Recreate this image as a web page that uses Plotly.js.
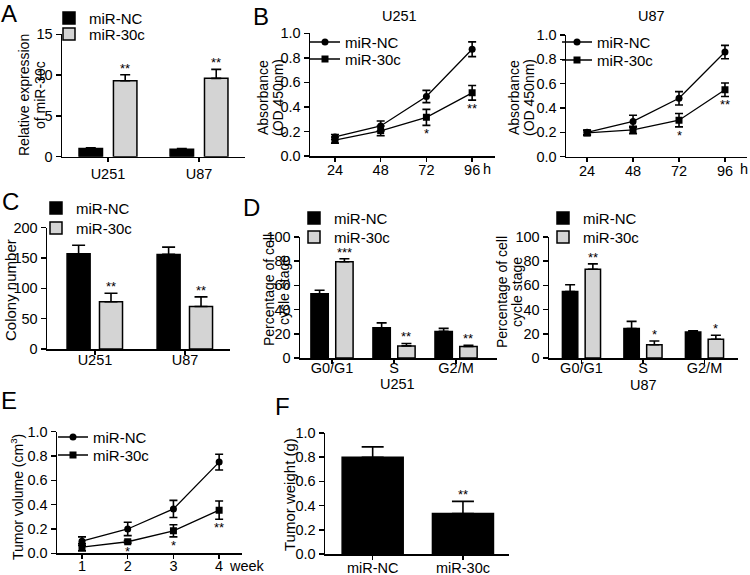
<!DOCTYPE html>
<html><head><meta charset="utf-8">
<script src="https://cdn.plot.ly/plotly-3.0.1.min.js"></script>
<style>html,body{margin:0;padding:0;background:#fff}#chart{width:750px;height:575px}</style>
</head><body><div id="chart"></div>
<script>
// ---------- DATA ----------
// Panel A
const cellLines = ['U251', 'U87'];
const relExprNC = [1.0, 0.9];
const relExprNCErr = [0.1, 0.1];
const relExpr30c = [9.3, 9.6];
const relExpr30cErr = [0.75, 1.1];
const relExprSig = ['**', '**'];
// Panel B
const hours = [24, 48, 72, 96];
const hourTicks = ['24', '48', '72', '96'];
const absU251NC = [0.155, 0.245, 0.485, 0.87];
const absU251NCErr = [0.02, 0.04, 0.05, 0.06];
const absU251m30c = [0.13, 0.205, 0.315, 0.515];
const absU251m30cErr = [0.025, 0.04, 0.065, 0.06];
const absU251Sig = ['', '', '*', '**'];
const absU87NC = [0.2, 0.29, 0.48, 0.86];
const absU87NCErr = [0.02, 0.05, 0.055, 0.055];
const absU87m30c = [0.195, 0.22, 0.3, 0.55];
const absU87m30cErr = [0.02, 0.03, 0.055, 0.055];
const absU87Sig = ['', '', '*', '**'];
// Panel C
const colonyNC = [157, 156];
const colonyNCErr = [14, 12];
const colonym30c = [78, 70];
const colonym30cErr = [14, 16];
const colonySig = ['**', '**'];
// Panel D
const phases = ['G0/G1', 'S', 'G2/M'];
const cycleU251NC = [53, 25, 22];
const cycleU251NCErr = [3, 4, 2.5];
const cycleU251m30c = [79.5, 10, 9.5];
const cycleU251m30cErr = [2.5, 2, 1];
const cycleU251Sig = ['***', '**', '**'];
const cycleU87NC = [55, 24.3, 21.5];
const cycleU87NCErr = [5.5, 6, 1];
const cycleU87m30c = [73.3, 11, 15.5];
const cycleU87m30cErr = [4.5, 3, 3.3];
const cycleU87Sig = ['**', '*', '*'];
// Panel E
const weeks = [1, 2, 3, 4];
const volNC = [0.10, 0.20, 0.365, 0.75];
const volNCErr = [0.035, 0.055, 0.07, 0.065];
const volm30c = [0.05, 0.095, 0.185, 0.355];
const volm30cErr = [0.03, 0.01, 0.05, 0.075];
const volSig = ['', '*', '*', '**'];
// Panel F
const groups = ['miR-NC', 'miR-30c'];
const weight = [0.80, 0.335];
const weightErr = [0.085, 0.1];
const weightSig = ['', '**'];

const NAME_NC = 'miR-NC', NAME_30 = 'miR-30c';

// ---------- HELPERS ----------
const W = 750, H = 575;
const dx = (a, b) => [a / W, b / W];
const dy = (t, b) => [1 - b / H, 1 - t / H];
const FONT = '"Liberation Sans", Arial, sans-serif';
const BLACK = '#000000';
const GRAY = '#d4d4d4';
const TICK_SIZE = 14.5, TITLE_SIZE = 14, LEG_SIZE = 15;

function xAxis(domain, range, anchor, standoff, extra) {
  return Object.assign({
    domain, range, anchor, showline: true, linecolor: BLACK, linewidth: 1.5,
    ticks: 'outside', ticklen: 4, tickwidth: 1.5, tickcolor: BLACK,
    ticklabelstandoff: standoff,
    showgrid: false, zeroline: false, fixedrange: true,
    tickfont: {family: FONT, size: TICK_SIZE, color: BLACK}
  }, extra || {});
}
function yAxis(domain, range, anchor, extra) {
  return Object.assign({
    domain, range, anchor, showline: true, linecolor: BLACK, linewidth: 1.5,
    ticks: 'outside', ticklen: 5, tickwidth: 1.5, tickcolor: BLACK,
    showgrid: false, zeroline: false, fixedrange: true,
    tickfont: {family: FONT, size: TICK_SIZE, color: BLACK}
  }, extra || {});
}
function barTrace(x, y, err, color, name, xa, ya, offset, width, capw, legend, showlegend) {
  return {
    type: 'bar', x, y, name, xaxis: xa, yaxis: ya, offset, width,
    legend: legend || 'legend', showlegend: !!showlegend,
    marker: {color, line: {color: BLACK, width: 1.5}},
    error_y: {type: 'data', symmetric: false, array: err, arrayminus: err.map(() => 0),
      color: BLACK, thickness: 1.6, width: capw},
    hoverinfo: 'skip'
  };
}
function lineTrace(x, y, err, symbol, name, xa, ya, legend) {
  return {
    type: 'scatter', mode: 'lines+markers', x, y, name, xaxis: xa, yaxis: ya,
    legend, showlegend: true,
    line: {color: BLACK, width: 1.3},
    marker: {symbol, size: 7, color: BLACK},
    error_y: {type: 'data', array: err, color: BLACK, thickness: 1.6, width: 4},
    hoverinfo: 'skip'
  };
}
function sigAbove(sigs, vals, errs, xa, ya, shift) {
  const out = [];
  sigs.forEach((s, i) => {
    if (!s) return;
    out.push({xref: xa, yref: ya, x: i + shift, y: vals[i] + errs[i], text: s,
      showarrow: false, xanchor: 'center', yanchor: 'bottom', yshift: -3,
      font: {family: FONT, size: 13, color: BLACK}});
  });
  return out;
}
function sigBelow(sigs, xs, vals, errs, xa, ya) {
  const out = [];
  sigs.forEach((s, i) => {
    if (!s) return;
    out.push({xref: xa, yref: ya, x: xs[i], y: vals[i] - errs[i], text: s,
      showarrow: false, xanchor: 'center', yanchor: 'top', yshift: 1,
      font: {family: FONT, size: 13, color: BLACK}});
  });
  return out;
}
function label(text, x, y, size, angle) {
  return {xref: 'paper', yref: 'paper', x: x / W, y: 1 - y / H, text, showarrow: false,
    xanchor: 'center', yanchor: 'middle', textangle: angle || 0,
    font: {family: FONT, size: size, color: BLACK}};
}
// one legend per entry so every row can sit where the reference has it
function legendRow(left, rowCenter) {
  const itemH = Math.max(LEG_SIZE * 1.3, 16) + 3;
  const top = rowCenter - (5 + itemH / 2);
  return {x: left / W, y: 1 - top / H, xref: 'paper', yref: 'paper', xanchor: 'left', yanchor: 'top',
    bgcolor: 'rgba(0,0,0,0)', borderwidth: 0, tracegroupgap: 0,
    itemclick: false, itemdoubleclick: false,
    font: {family: FONT, size: LEG_SIZE, color: BLACK}};
}

// bar geometry (style)
const A_W = 0.258, A_OFF_NC = -0.318, A_OFF_30 = 0.06;
const C_W = 0.256, C_OFF_NC = -0.31, C_OFF_30 = 0.05;
const D1_W = 0.28, D1_OFF_NC = -0.34, D1_OFF_30 = 0.06;
const D2_W = 0.25, D2_OFF_NC = -0.31, D2_OFF_30 = 0.06;
const F_W = 0.676, F_OFF = -0.338;

const traces = [
  // A
  barTrace(cellLines, relExprNC, relExprNCErr, BLACK, NAME_NC, 'x', 'y', A_OFF_NC, A_W, 5, 'legend', true),
  barTrace(cellLines, relExpr30c, relExpr30cErr, GRAY, NAME_30, 'x', 'y', A_OFF_30, A_W, 5, 'legend2', true),
  // B U251
  lineTrace(hours, absU251NC, absU251NCErr, 'circle', NAME_NC, 'x2', 'y2', 'legend3'),
  lineTrace(hours, absU251m30c, absU251m30cErr, 'square', NAME_30, 'x2', 'y2', 'legend4'),
  // B U87
  lineTrace(hours, absU87NC, absU87NCErr, 'circle', NAME_NC, 'x3', 'y3', 'legend5'),
  lineTrace(hours, absU87m30c, absU87m30cErr, 'square', NAME_30, 'x3', 'y3', 'legend6'),
  // C
  barTrace(cellLines, colonyNC, colonyNCErr, BLACK, NAME_NC, 'x4', 'y4', C_OFF_NC, C_W, 6.5, 'legend7', true),
  barTrace(cellLines, colonym30c, colonym30cErr, GRAY, NAME_30, 'x4', 'y4', C_OFF_30, C_W, 6.5, 'legend8', true),
  // D U251
  barTrace(phases, cycleU251NC, cycleU251NCErr, BLACK, NAME_NC, 'x5', 'y5', D1_OFF_NC, D1_W, 5, 'legend9', true),
  barTrace(phases, cycleU251m30c, cycleU251m30cErr, GRAY, NAME_30, 'x5', 'y5', D1_OFF_30, D1_W, 5, 'legend10', true),
  // D U87
  barTrace(phases, cycleU87NC, cycleU87NCErr, BLACK, NAME_NC, 'x6', 'y6', D2_OFF_NC, D2_W, 5, 'legend11', true),
  barTrace(phases, cycleU87m30c, cycleU87m30cErr, GRAY, NAME_30, 'x6', 'y6', D2_OFF_30, D2_W, 5, 'legend12', true),
  // E
  lineTrace(weeks, volNC, volNCErr, 'circle', NAME_NC, 'x7', 'y7', 'legend13'),
  lineTrace(weeks, volm30c, volm30cErr, 'square', NAME_30, 'x7', 'y7', 'legend14'),
  // F
  barTrace(groups, weight, weightErr, BLACK, 'Tumor weight', 'x8', 'y8', F_OFF, F_W, 11, 'legend', false)
];

const annotations = [].concat(
  // panel letters
  [label('A', 9, 14, 24), label('B', 261, 16, 24), label('C', 10, 202, 24),
   label('D', 251, 207, 24), label('E', 9, 400, 24), label('F', 282, 406, 24)],
  // panel titles and axis unit labels
  [label('U251', 399, 16, 14.5), label('U87', 651, 16, 14.5),
   label('h', 487, 169, TICK_SIZE), label('h', 744, 169, TICK_SIZE), label('week', 247, 566, TICK_SIZE),
   label('U251', 398, 384, TICK_SIZE), label('U87', 643, 385, TICK_SIZE)],
  // y-axis titles
  [label('Relative expression', 24, 95, TITLE_SIZE, -90), label('of miR-30c', 40, 95, TITLE_SIZE, -90),
   label('Absorbance', 263, 98, TITLE_SIZE, -90), label('(OD 450nm)', 278, 98, TITLE_SIZE, -90),
   label('Absorbance', 514, 98, TITLE_SIZE, -90), label('(OD 450nm)', 529, 98, TITLE_SIZE, -90),
   label('Colony number', 10, 290, 15, -90),
   label('Percentage of cell', 269, 290, TITLE_SIZE, -90), label('cycle stage', 284, 290, TITLE_SIZE, -90),
   label('Percentage of cell', 502, 292, TITLE_SIZE, -90), label('cycle stage', 517, 292, TITLE_SIZE, -90),
   label('Tumor volume (cm<sup>3</sup>)', 17, 497, TITLE_SIZE, -90),
   label('Tumor weight (g)', 289, 495, 15, -90)],
  // significance marks
  sigAbove(relExprSig, relExpr30c, relExpr30cErr, 'x', 'y', A_OFF_30 + A_W / 2),
  sigBelow(absU251Sig, hours, absU251m30c, absU251m30cErr, 'x2', 'y2'),
  sigBelow(absU87Sig, hours, absU87m30c, absU87m30cErr, 'x3', 'y3'),
  sigAbove(colonySig, colonym30c, colonym30cErr, 'x4', 'y4', C_OFF_30 + C_W / 2),
  sigAbove(cycleU251Sig, cycleU251m30c, cycleU251m30cErr, 'x5', 'y5', D1_OFF_30 + D1_W / 2),
  sigAbove(cycleU87Sig, cycleU87m30c, cycleU87m30cErr, 'x6', 'y6', D2_OFF_30 + D2_W / 2),
  sigBelow(volSig, weeks, volm30c, volm30cErr, 'x7', 'y7'),
  sigAbove(weightSig, weight, weightErr, 'x8', 'y8', F_OFF + F_W / 2)
);

const layout = {
  width: W, height: H, margin: {l: 0, r: 0, t: 0, b: 0},
  paper_bgcolor: '#ffffff', plot_bgcolor: 'rgba(0,0,0,0)',
  font: {family: FONT, size: 14, color: BLACK},
  barmode: 'overlay', showlegend: true, hovermode: false,
  // A
  xaxis: xAxis(dx(62, 245), [-0.505, 1.505], 'y', -1, {type: 'category'}),
  yaxis: yAxis(dy(34.3, 156.7), [0, 15], 'x', {tickvals: [0, 5, 10, 15]}),
  // B U251
  xaxis2: xAxis(dx(310, 495), [10.9, 108], 'y2', -4, {tickvals: hours, ticktext: hourTicks}),
  yaxis2: yAxis(dy(33.3, 156), [0, 1], 'x2', {dtick: 0.2, tickformat: '.1f'}),
  // B U87
  xaxis3: xAxis(dx(566, 747), [13, 107.5], 'y3', -4, {tickvals: hours, ticktext: hourTicks}),
  yaxis3: yAxis(dy(35, 156.7), [0, 1], 'x3', {dtick: 0.2, tickformat: '.1f'}),
  // C
  xaxis4: xAxis(dx(47, 230), [-0.533, 1.5], 'y4', -7, {type: 'category'}),
  yaxis4: yAxis(dy(227.7, 349), [0, 200], 'x4', {dtick: 50}),
  // D U251
  xaxis5: xAxis(dx(300, 497), [-0.516, 2.66], 'y5', -8, {type: 'category'}),
  yaxis5: yAxis(dy(237, 358), [0, 100], 'x5', {dtick: 20}),
  // D U87
  xaxis6: xAxis(dx(549, 738), [-0.528, 2.545], 'y6', -8, {type: 'category'}),
  yaxis6: yAxis(dy(237, 358), [0, 100], 'x6', {dtick: 20}),
  // E
  xaxis7: xAxis(dx(57, 242), [0.453, 4.5], 'y7', -5, {tickvals: weeks}),
  yaxis7: yAxis(dy(431.7, 553.3), [0, 1], 'x7', {dtick: 0.2, tickformat: '.1f'}),
  // F
  xaxis8: xAxis(dx(325, 509), [-0.528, 1.51], 'y8', -4, {type: 'category'}),
  yaxis8: yAxis(dy(433, 554), [0, 1], 'x8', {dtick: 0.2, tickformat: '.1f'}),
  legend: legendRow(49, 18), legend2: legendRow(49, 34),
  legend3: legendRow(305, 42), legend4: legendRow(305, 59),
  legend5: legendRow(557, 42), legend6: legendRow(557, 60),
  legend7: legendRow(36, 208), legend8: legendRow(36, 228),
  legend9: legendRow(294, 218), legend10: legendRow(294, 237),
  legend11: legendRow(543, 218), legend12: legendRow(543, 237),
  legend13: legendRow(53, 437), legend14: legendRow(53, 455),
  annotations
};

Plotly.newPlot('chart', traces, layout, {staticPlot: true, displayModeBar: false});
</script>
</body></html>
